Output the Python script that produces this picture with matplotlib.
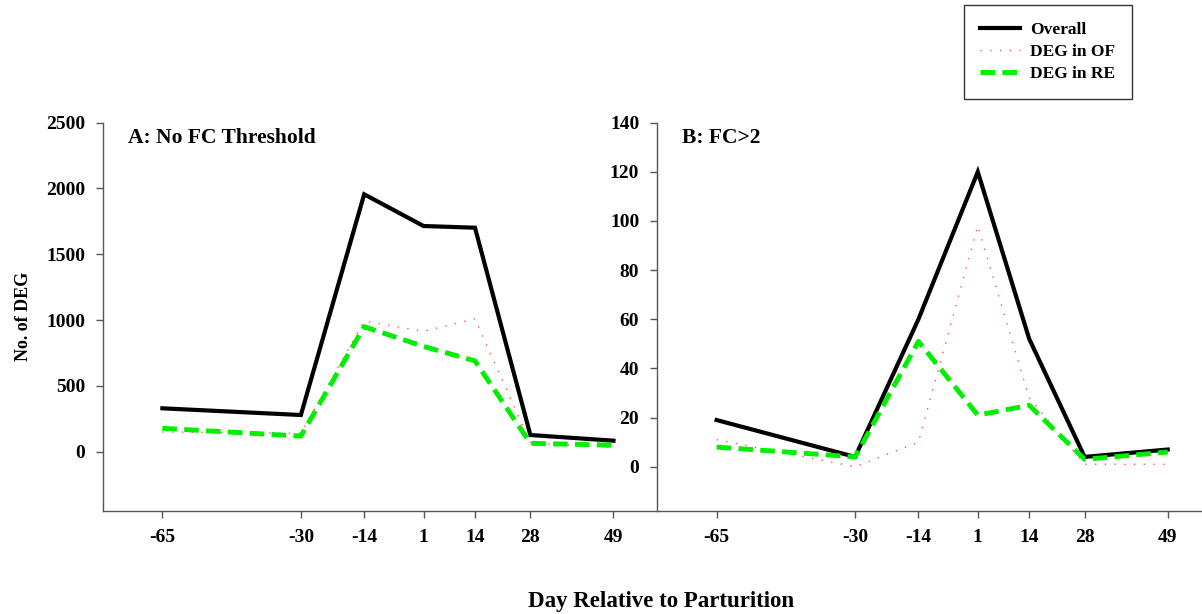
import matplotlib
matplotlib.use("Agg")
import matplotlib.pyplot as plt

plt.rcParams['font.family'] = ['Liberation Serif', 'DejaVu Serif']
plt.rcParams['font.weight'] = 'bold'

days = [-65, -30, -14, 1, 14, 28, 49]
day_labels = ['-65', '-30', '-14', '1', '14', '28', '49']

# panel A: no FC threshold
a_overall = [330, 279, 1956, 1715, 1702, 127, 84]
a_of = [150, 140, 993, 915, 1010, 66, 33]
a_re = [178, 119, 950, 800, 690, 64, 50]

# panel B: FC > 2
b_overall = [19, 4, 60, 120, 52, 4, 7]
b_of = [11, 0, 10, 98, 28, 1, 1]
b_re = [8, 4, 51, 21, 25, 3, 6]

fig = plt.figure(figsize=(12.02, 6.14), dpi=100)
axA = fig.add_axes([0.0857, 0.1678, 0.4609, 0.6324])
axB = fig.add_axes([0.5468, 0.1678, 0.4609, 0.6324])

def panel(ax, overall, of, re, ylim, yticks, label):
    l1, = ax.plot(days, overall, color='black', lw=3.0, solid_joinstyle='miter', label='Overall')
    l2, = ax.plot(days, of, color='#ff5050', lw=1.0, linestyle=(0, (1, 6)), label='DEG in OF')
    l3, = ax.plot(days, re, color='#00ee00', lw=3.5, linestyle=(0, (3, 1.5)), label='DEG in RE')
    ax.set_xlim(-80, 60)
    ax.set_ylim(*ylim)
    ax.set_xticks(days)
    ax.set_xticklabels(day_labels)
    ax.set_yticks(yticks)
    for s in ['top', 'right']:
        ax.spines[s].set_visible(False)
    for s in ['left', 'bottom']:
        ax.spines[s].set_color('#555555')
        ax.spines[s].set_linewidth(1.0)
    ax.tick_params(direction='out', length=5, width=1, color='#555555', labelsize=14, pad=8)
    for t in ax.get_xticklabels() + ax.get_yticklabels():
        t.set_fontweight('bold')
    ax.text(0.045, 0.96, label, transform=ax.transAxes, fontsize=15.5, fontweight='bold', va='center')
    return l1, l2, l3

handles = panel(axA, a_overall, a_of, a_re, (-450, 2500), [0, 500, 1000, 1500, 2000, 2500], 'A: No FC Threshold')
panel(axB, b_overall, b_of, b_re, (-18, 140), [0, 20, 40, 60, 80, 100, 120, 140], 'B: FC>2')

axA.set_ylabel('No. of DEG', fontsize=13, fontweight='bold', labelpad=10)

fig.text(661 / 1202, 1 - 601 / 614, 'Day Relative to Parturition', ha='center', va='center',
         fontsize=16.5, fontweight='bold')

leg = fig.legend(handles=handles, loc='upper left', bbox_to_anchor=(964 / 1202, 1 - 5 / 614),
                 fontsize=12.5, frameon=True, fancybox=False, handlelength=2.3,
                 borderpad=0.95, labelspacing=0.36, handletextpad=0.55, borderaxespad=0)
leg.get_frame().set_edgecolor('black')
leg.get_frame().set_linewidth(1.0)
for t in leg.get_texts():
    t.set_fontweight('bold')

fig.savefig('out.png', dpi=100)
